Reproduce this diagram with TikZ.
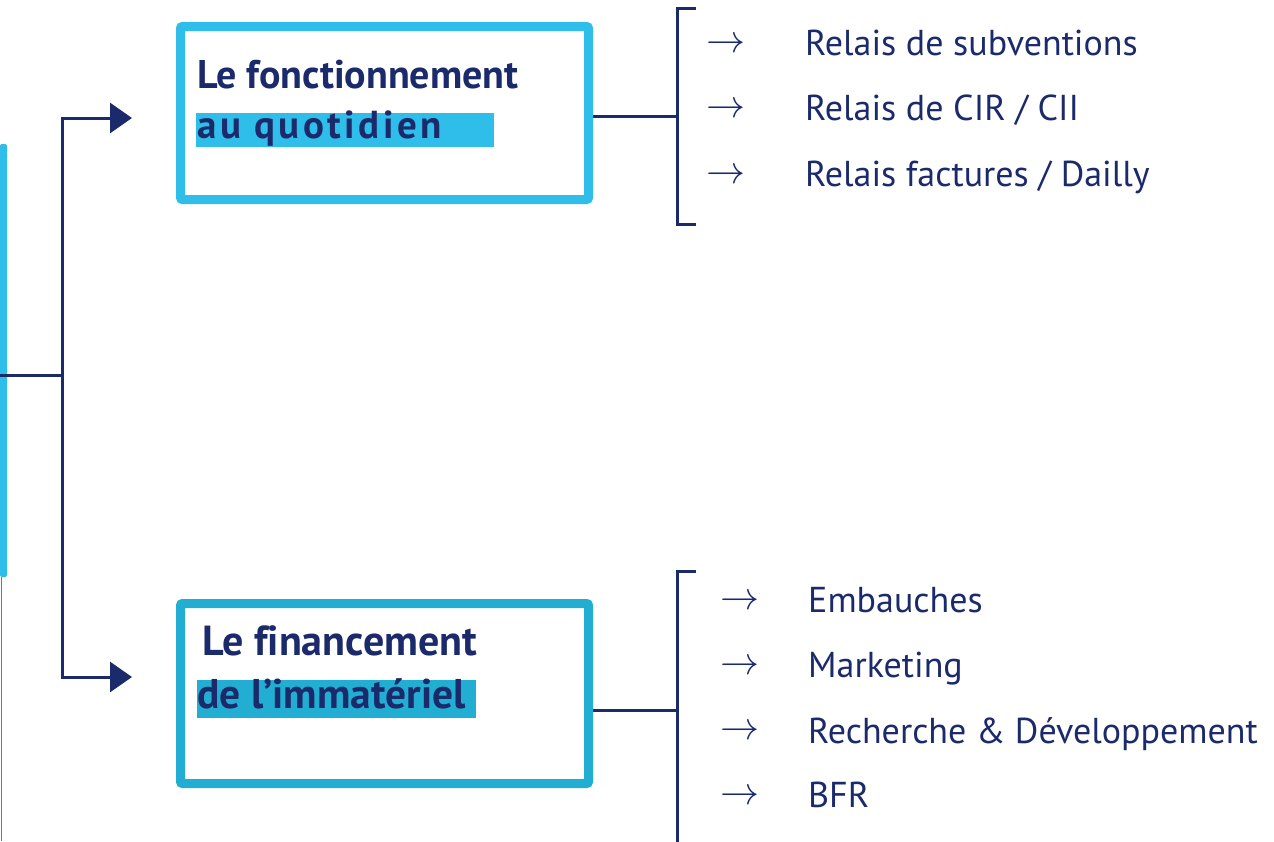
\documentclass[tikz,border=0pt]{standalone}
\usepackage{fontspec}
\usepackage{graphicx}
\setmainfont{PT Sans}
\usetikzlibrary{arrows.meta}
\definecolor{navy}{HTML}{1B2A6B}
\definecolor{cyanA}{HTML}{2FBDEA}
\definecolor{cyanB}{HTML}{22AED2}
\definecolor{grayline}{HTML}{6A7898}
\tikzset{
  conn/.style={draw=navy,line width=3pt},
  boxA/.style={draw=cyanA,line width=9pt,rounded corners=2pt,minimum width=408pt,inner sep=0pt},
  item/.style={anchor=base west,inner sep=0pt,text=navy,font=\fontsize{36}{40}\selectfont},
  arr/.style={inner sep=0pt,text=navy},
  title/.style={anchor=base west,inner sep=0pt,text=navy,font=\fontsize{40}{44}\selectfont\bfseries},
  hl/.style={inner sep=0pt,anchor=north west},
}
\newcommand{\rarr}{\scalebox{3.9}{$\rightarrow$}}
\begin{document}
\begin{tikzpicture}[x=1pt,y=-1pt]
\useasboundingbox (0,0) rectangle (1274,841);
% left bar
\fill[cyanA,rounded corners=2pt] (0,144) rectangle (7,577);
\draw[grayline,line width=1.5pt] (1.5,577) -- (1.5,841);
% boxes
\node[boxA,minimum height=173pt] (b1) at (384.5,113) {};
\node[boxA,draw=cyanB,minimum height=180pt] (b2) at (384.5,693.5) {};
% highlights
\node[hl,fill=cyanA,minimum width=298pt,minimum height=34pt] (h1) at (196,113) {};
\node[hl,fill=cyanB,minimum width=279pt,minimum height=38pt] (h2) at (197,680) {};
% titles
\node[title] (t1) at (197,88) {Le fonctionnement};
\node[title,font=\fontsize{39}{44}\selectfont\bfseries\addfontfeature{LetterSpace=9}] (t1b) at (197,138) {au quotidien};
\node[title,font=\fontsize{42}{44}\selectfont\bfseries] (t2) at (202,655) {Le f\kern0pt inancement};
\node[title,font=\fontsize{41.5}{44}\selectfont\bfseries] (t2b) at (197,708) {de l’immatériel};
% left connectors
\coordinate (j0) at (0,375);
\coordinate (j) at (62,375);
\coordinate (a1) at (132,118);
\coordinate (a2) at (132,677);
\draw[conn] (j0) -- (j);
\draw[conn,-{Triangle[length=22pt,width=30pt]}] (j) |- (a1);
\draw[conn,-{Triangle[length=22pt,width=30pt]}] (j) |- (a2);
% brackets
\coordinate (k1) at (677,116);
\coordinate (k2) at (677,710);
\coordinate (br1t) at (696,8);
\coordinate (br1b) at (696,224);
\coordinate (br2t) at (696,571);
\coordinate (br2b) at (677,845);
\draw[conn] (b1.east |- k1) -- (k1);
\draw[conn] (b2.east |- k2) -- (k2);
\draw[conn] (br1t) -| (k1) |- (br1b);
\draw[conn] (br2t) -| (k2) -- (br2b);
% items top
\node[arr] (r1a) at (726,45) {\rarr};
\node[arr] (r2a) at (726,110) {\rarr};
\node[arr] (r3a) at (726,176) {\rarr};
\node[item] (r1) at (805,55) {Relais de subventions};
\node[item] (r2) at (805,120) {Relais de CIR / CII};
\node[item] (r3) at (805,186) {Relais factures / Dailly};
% items bottom
\node[arr] (s1a) at (740,602) {\rarr};
\node[arr] (s2a) at (740,667) {\rarr};
\node[arr] (s3a) at (740,732) {\rarr};
\node[arr] (s4a) at (740,797) {\rarr};
\node[item] (s1) at (808,612) {Embauches};
\node[item] (s2) at (808,677) {Marketing};
\node[item] (s3) at (808,743) {Recherche \& Développement};
\node[item] (s4) at (808,807) {BFR};
\end{tikzpicture}
\end{document}
